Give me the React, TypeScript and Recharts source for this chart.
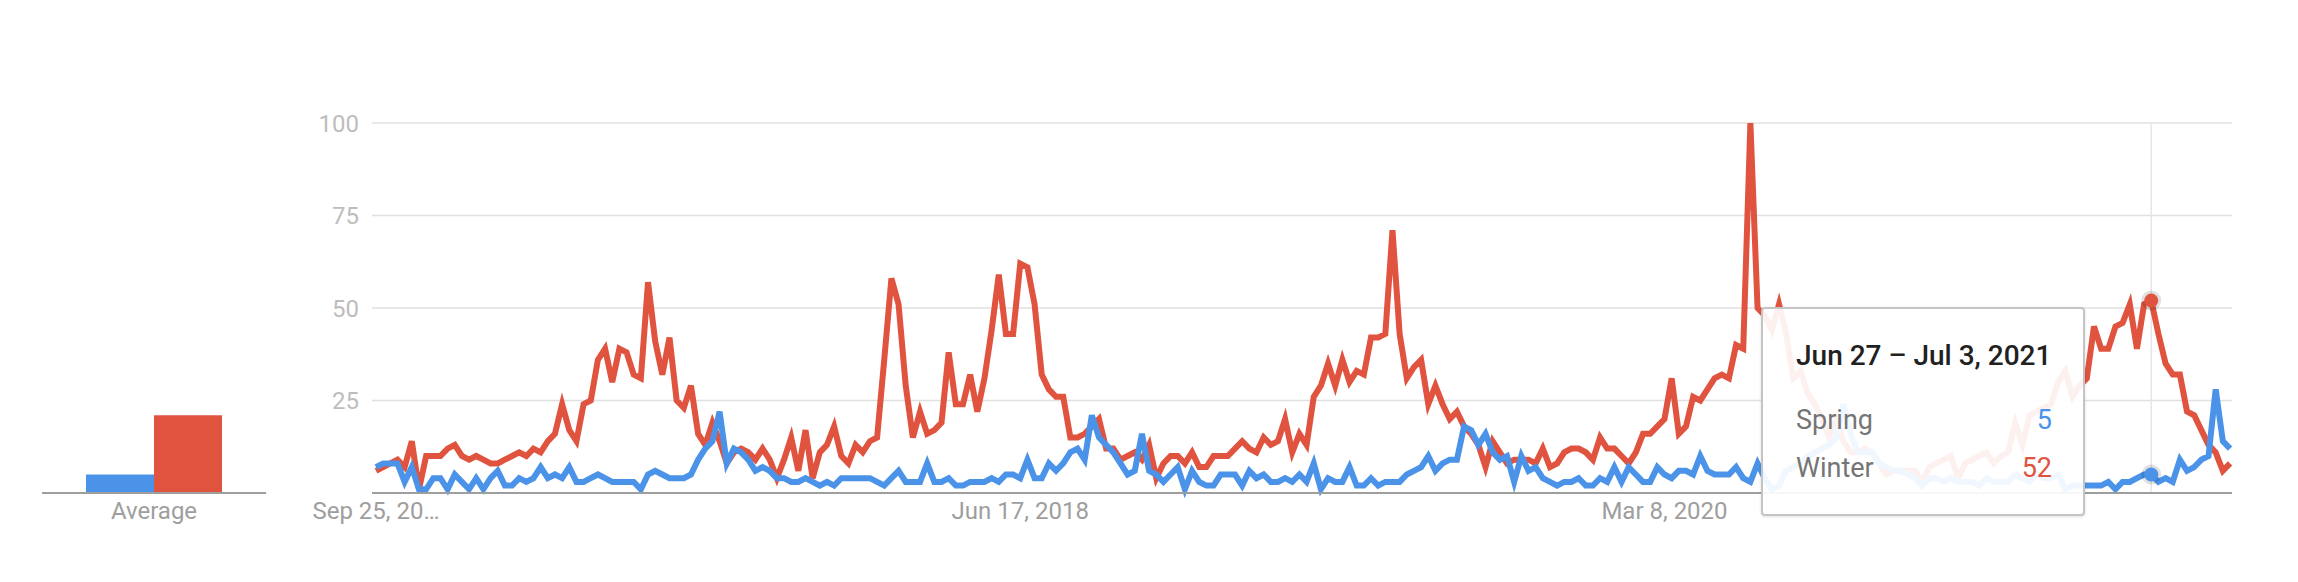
import { LineChart, Line, XAxis, YAxis, CartesianGrid, ReferenceLine, ReferenceDot, BarChart, Bar } from 'recharts';

// weekly interest, Sep 25 2016 .. Sep 12 2021 (260 weeks)
const spring = [
  7, 8, 8, 8, 3, 7, 1, 1, 4, 4,
  1, 5, 3, 1, 4, 1, 4, 6, 2, 2,
  4, 3, 4, 7, 4, 5, 4, 7, 3, 3,
  4, 5, 4, 3, 3, 3, 3, 1, 5, 6,
  5, 4, 4, 4, 5, 9, 12, 14, 22, 8,
  12, 11, 9, 6, 7, 6, 4, 4, 3, 3,
  4, 3, 2, 3, 2, 4, 4, 4, 4, 4,
  3, 2, 4, 6, 3, 3, 3, 8, 3, 3,
  4, 2, 2, 3, 3, 3, 4, 3, 5, 5,
  4, 9, 4, 4, 8, 6, 8, 11, 12, 9,
  21, 15, 13, 11, 8, 5, 6, 16, 6, 5,
  3, 5, 7, 1, 6, 3, 2, 2, 5, 5,
  5, 2, 6, 4, 5, 3, 3, 4, 3, 5,
  3, 8, 1, 4, 3, 3, 7, 2, 2, 4,
  2, 3, 3, 3, 5, 6, 7, 10, 6, 8,
  9, 9, 18, 17, 13, 16, 11, 9, 10, 3,
  10, 6, 7, 4, 3, 2, 3, 3, 4, 2,
  2, 4, 3, 7, 3, 7, 5, 3, 3, 7,
  5, 4, 6, 6, 5, 10, 6, 5, 5, 5,
  7, 4, 3, 8, 4, 1, 2, 6, 7, 8,
  10, 11, 12, 13, 15, 24, 16, 11, 11, 11,
  8, 7, 6, 6, 5, 4, 2, 4, 4, 3,
  4, 3, 3, 3, 2, 4, 3, 3, 3, 5,
  4, 3, 5, 4, 4, 5, 1, 2, 2, 2,
  2, 2, 3, 1, 3, 3, 4, 5, 5, 3,
  4, 3, 9, 6, 7, 9, 10, 28, 14, 12,
];

const winter = [
  6, 7, 8, 9, 7, 14, 1, 10, 10, 10,
  12, 13, 10, 9, 10, 9, 8, 8, 9, 10,
  11, 10, 12, 11, 14, 16, 24, 17, 14, 24,
  25, 36, 39, 30, 39, 38, 32, 31, 57, 41,
  32, 42, 25, 23, 29, 16, 13, 19, 14, 8,
  11, 12, 11, 9, 12, 9, 4, 9, 15, 6,
  17, 4, 11, 13, 18, 10, 8, 13, 11, 14,
  15, 36, 58, 51, 29, 15, 22, 16, 17, 19,
  38, 24, 24, 32, 22, 31, 44, 59, 43, 43,
  62, 61, 51, 32, 28, 26, 26, 15, 15, 16,
  18, 20, 12, 12, 9, 10, 11, 9, 13, 4,
  8, 10, 10, 8, 11, 7, 7, 10, 10, 10,
  12, 14, 12, 11, 15, 13, 14, 20, 11, 16,
  13, 26, 29, 35, 29, 36, 30, 33, 32, 42,
  42, 43, 71, 43, 31, 34, 36, 24, 29, 24,
  20, 22, 18, 16, 13, 7, 14, 11, 8, 9,
  9, 9, 8, 12, 7, 8, 11, 12, 12, 11,
  9, 15, 12, 12, 10, 8, 11, 16, 16, 18,
  20, 31, 16, 18, 26, 25, 28, 31, 32, 31,
  40, 39, 100, 50, 48, 44, 51, 43, 31, 33,
  27, 24, 20, 15, 20, 14, 11, 11, 12, 11,
  8, 5, 6, 6, 6, 6, 3, 7, 8, 9,
  10, 4, 8, 9, 10, 11, 8, 10, 11, 19,
  13, 21, 22, 23, 24, 30, 33, 26, 29, 31,
  45, 39, 39, 45, 46, 51, 39, 51, 52, 43,
  35, 32, 32, 22, 21, 17, 13, 11, 6, 8,
];

const seriesNames = ['Spring', 'Winter'];
const averages = [5, 21];
const yTicks = [25, 50, 75, 100];
const tickWeeks = [0, 90, 180];
const tickLabels = ['Sep 25, 20…', 'Jun 17, 2018', 'Mar 8, 2020'];
const hoverWeek = 248;
const hoverLabel = 'Jun 27 – Jul 3, 2021';

const BLUE = '#4a93e8';
const RED = '#e0533f';

const data = spring.map((s, i) => ({ i, spring: s, winter: winter[i] }));
const avgData = [{ name: 'Average', spring: averages[0], winter: averages[1] }];

export default function App() {
  return (
    <div style={{ position: 'fixed', left: 0, top: 0, width: 2298, height: 582, background: '#fff', fontFamily: 'Roboto, sans-serif' }}>
      <div style={{ position: 'absolute', left: 0, top: 0 }}>
        <BarChart width={300} height={582} data={avgData} margin={{ top: 123, right: 34, bottom: 49, left: 42 }} barCategoryGap={44} barGap={0}>
          <XAxis
            dataKey="name"
            axisLine={{ stroke: '#9e9e9e', strokeWidth: 2 }}
            tickLine={false}
            tickSize={0}
            tickMargin={9}
            height={40}
            tick={{ fill: '#9e9e9e', fontSize: 24 }}
          />
          <YAxis hide domain={[0, 100]} />
          <Bar dataKey="spring" name={seriesNames[0]} fill={BLUE} isAnimationActive={false} />
          <Bar dataKey="winter" name={seriesNames[1]} fill={RED} isAnimationActive={false} />
        </BarChart>
      </div>

      <div style={{ position: 'absolute', left: 0, top: 0 }}>
        <LineChart width={2298} height={582} data={data} margin={{ top: 123, right: 66, bottom: 49, left: 292 }}>
          <CartesianGrid vertical={false} stroke="#e0e0e0" strokeWidth={1.5} />
          <XAxis
            type="number"
            dataKey="i"
            domain={[-0.56, 259.28]}
            allowDataOverflow
            ticks={tickWeeks}
            interval={0}
            tickFormatter={(v) => tickLabels[tickWeeks.indexOf(v)]}
            axisLine={{ stroke: '#9e9e9e', strokeWidth: 2 }}
            tickLine={false}
            tickSize={0}
            tickMargin={9}
            height={40}
            tick={{ fill: '#9e9e9e', fontSize: 24 }}
          />
          <YAxis
            domain={[0, 100]}
            ticks={yTicks}
            axisLine={false}
            tickLine={false}
            tickSize={0}
            tickMargin={13}
            width={80}
            tick={{ fill: '#bdbdbd', fontSize: 24 }}
          />
          <ReferenceLine x={hoverWeek} stroke="#e6e6e6" strokeWidth={1.5} />
          <Line dataKey="winter" name={seriesNames[1]} stroke={RED} strokeWidth={6} dot={false} isAnimationActive={false} />
          <Line dataKey="spring" name={seriesNames[0]} stroke={BLUE} strokeWidth={6} dot={false} isAnimationActive={false} />
          <ReferenceDot x={hoverWeek} y={winter[hoverWeek]} r={10} fill="rgba(0,0,0,0.12)" stroke="none" />
          <ReferenceDot x={hoverWeek} y={winter[hoverWeek]} r={7} fill={RED} stroke="none" />
          <ReferenceDot x={hoverWeek} y={spring[hoverWeek]} r={10} fill="rgba(0,0,0,0.12)" stroke="none" />
          <ReferenceDot x={hoverWeek} y={spring[hoverWeek]} r={7} fill={BLUE} stroke="none" />
        </LineChart>
      </div>

      <div
        style={{
          position: 'absolute',
          left: 1761,
          top: 307,
          width: 324,
          height: 209,
          boxSizing: 'border-box',
          background: 'rgba(255,255,255,0.92)',
          border: '2px solid #c4c4c4',
          borderRadius: 4,
          boxShadow: '0 1px 3px rgba(0,0,0,0.12)',
        }}
      >
        <svg width={324} height={209} style={{ position: 'absolute', left: -2, top: -2 }}>
          <text x={35} y={58} fontSize={28} fontWeight={500} fill="#212121">{hoverLabel}</text>
          <text x={35} y={122} fontSize={27} fill="#757575">{seriesNames[0]}</text>
          <text x={291} y={122} fontSize={27} fill={BLUE} textAnchor="end">{spring[hoverWeek]}</text>
          <text x={35} y={170} fontSize={27} fill="#757575">{seriesNames[1]}</text>
          <text x={291} y={170} fontSize={27} fill={RED} textAnchor="end">{winter[hoverWeek]}</text>
        </svg>
      </div>
    </div>
  );
}
